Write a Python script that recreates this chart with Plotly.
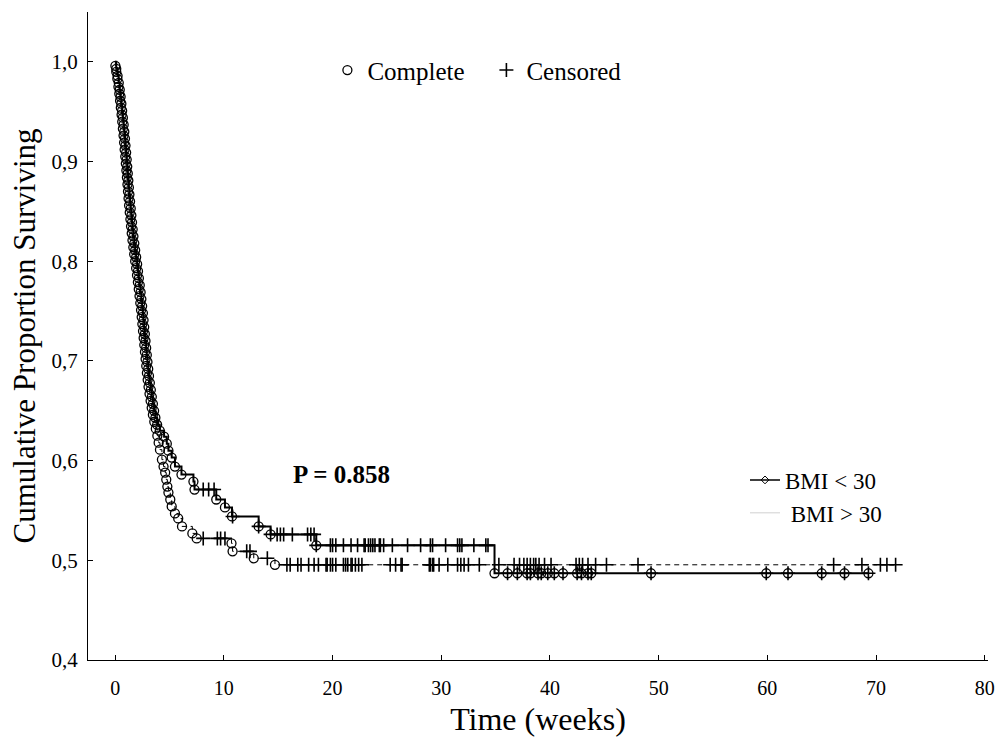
import plotly.graph_objects as go

# ---------------- data ----------------
# BMI < 30 : event (complete) times and survival after each event
g1_t = [0.10, 0.22, 0.33, 0.42, 0.50, 0.57, 0.64, 0.71, 0.78, 0.84, 0.90, 0.95, 1.01, 1.06, 1.11,
        1.16, 1.21, 1.26, 1.31, 1.37, 1.43, 1.49, 1.55, 1.61, 1.68, 1.76, 1.84, 1.93, 2.02, 2.10,
        2.18, 2.26, 2.34, 2.41, 2.48, 2.55, 2.61, 2.67, 2.73, 2.79, 2.85, 2.91, 2.97, 3.04, 3.11,
        3.19, 3.28, 3.37, 3.47, 3.58, 3.70, 3.86, 4.10, 4.50, 4.75, 4.90, 5.20, 5.50, 6.10, 7.20,
        7.30, 9.30, 10.10, 10.75, 13.20, 14.30, 18.50, 34.90, 36.1, 37.0, 37.9, 38.2, 38.9, 39.2,
        39.8, 40.4, 41.2, 42.5, 42.9, 43.5, 43.8, 49.3, 59.9, 61.9, 65.0, 67.1, 69.3]
g1_s = [0.993, 0.986, 0.979, 0.972, 0.965, 0.958, 0.951, 0.944, 0.937, 0.930, 0.923, 0.916, 0.909, 0.902, 0.895,
        0.888, 0.881, 0.874, 0.867, 0.860, 0.853, 0.846, 0.839, 0.832, 0.825, 0.818, 0.811, 0.804, 0.797, 0.790,
        0.783, 0.776, 0.769, 0.762, 0.755, 0.748, 0.741, 0.734, 0.727, 0.720, 0.713, 0.706, 0.699, 0.692, 0.685,
        0.678, 0.671, 0.664, 0.657, 0.650, 0.643, 0.636, 0.630, 0.624, 0.617, 0.610, 0.603, 0.594, 0.586, 0.579,
        0.571, 0.561, 0.553, 0.544, 0.534, 0.526, 0.515, 0.487, 0.487, 0.487, 0.487, 0.487, 0.487, 0.487,
        0.487, 0.487, 0.487, 0.487, 0.487, 0.487, 0.487, 0.487, 0.487, 0.487, 0.487, 0.487, 0.487]
g1_cens = [8.1, 8.6, 9.1, 10.8, 13.2, 14.3, 14.9, 15.2, 15.5, 16.3, 17.7, 18.0, 18.3, 18.5,
           19.8, 20.0, 20.3, 21.0, 21.7, 22.3, 22.9, 23.0, 23.3, 23.5, 23.7, 23.9, 24.3, 24.4, 24.7,
           25.5, 26.9, 28.1, 29.0, 29.2, 30.4, 31.5, 31.7, 31.9, 33.0, 34.1, 34.3,
           36.1, 37.0, 37.9, 38.2, 38.9, 39.2, 39.8, 40.4, 41.2, 42.5, 42.9, 43.5, 43.8,
           49.3, 59.9, 61.9, 65.0, 67.1, 69.3]

# BMI > 30
g2_t = [0.02, 0.10, 0.20, 0.30, 0.38, 0.45, 0.52, 0.59, 0.65, 0.71, 0.77, 0.82, 0.87, 0.93, 0.98,
        1.03, 1.08, 1.13, 1.18, 1.23, 1.28, 1.34, 1.40, 1.46, 1.52, 1.59, 1.67, 1.75, 1.84, 1.93,
        2.01, 2.09, 2.17, 2.24, 2.31, 2.38, 2.44, 2.50, 2.56, 2.62, 2.68, 2.74, 2.80, 2.86, 2.92,
        2.99, 3.07, 3.16, 3.26, 3.36, 3.47, 3.60, 3.74, 3.88, 4.00, 4.12, 4.30, 4.45, 4.60, 4.70,
        4.80, 4.90, 5.07, 5.20, 5.50, 5.80, 6.15, 7.10, 7.50, 10.70, 10.80, 12.75, 14.70]
g2_s = [0.996, 0.990, 0.983, 0.975, 0.968, 0.961, 0.954, 0.947, 0.940, 0.933, 0.926, 0.919, 0.912, 0.905, 0.898,
        0.891, 0.884, 0.877, 0.870, 0.863, 0.856, 0.849, 0.842, 0.835, 0.828, 0.821, 0.814, 0.807, 0.800, 0.793,
        0.786, 0.779, 0.772, 0.765, 0.758, 0.751, 0.744, 0.737, 0.730, 0.723, 0.716, 0.709, 0.702, 0.695, 0.688,
        0.681, 0.674, 0.667, 0.660, 0.653, 0.646, 0.639, 0.632, 0.625, 0.618, 0.611, 0.601, 0.594, 0.588, 0.581,
        0.574, 0.568, 0.561, 0.554, 0.547, 0.542, 0.534, 0.527, 0.522, 0.517, 0.509, 0.502, 0.4955]
g2_cens = [8.1, 9.4, 9.7, 10.1, 12.1, 12.4, 14.0,
           15.8, 16.1, 16.8, 17.1, 17.8, 18.3, 18.7, 19.4, 19.5, 19.8, 20.0, 20.3, 21.0, 21.2, 21.4, 21.7,
           21.8, 22.1, 22.4, 22.7, 25.3, 25.8, 26.3, 26.4, 28.9, 29.0, 29.2, 29.3, 29.8, 30.6, 31.5, 31.8,
           32.1, 32.5, 33.5, 35.3, 36.7, 37.2, 37.6, 37.9, 38.2, 38.5, 38.7, 39.0, 39.5, 40.1, 42.4, 42.7,
           43.0, 43.5, 44.2, 45.2, 48.1, 66.1, 68.7, 70.4, 71.0, 71.8]

x_ticks = [0, 10, 20, 30, 40, 50, 60, 70, 80]
y_ticks = [0.4, 0.5, 0.6, 0.7, 0.8, 0.9, 1.0]

FONT = "Liberation Serif, Times New Roman, serif"


def step_path(ts, ss, cens):
    xs = [0.0] + list(ts)
    ys = [1.0] + list(ss)
    end = max(cens) if cens else ts[-1]
    if end > xs[-1]:
        xs.append(end)
        ys.append(ys[-1])
    return xs, ys


def cens_y(ts, ss, cens):
    out = []
    for c in cens:
        v = 1.0
        for t, s in zip(ts, ss):
            if t <= c:
                v = s
        out.append(v)
    return out


fig = go.Figure()

x1, y1 = step_path(g1_t, g1_s, g1_cens)
x2, y2 = step_path(g2_t, g2_s, g2_cens)

fig.add_trace(go.Scatter(x=x2, y=y2, mode="lines", line=dict(color="black", width=1, dash="5px,4px", shape="hv"),
                         showlegend=False, hoverinfo="skip"))
fig.add_trace(go.Scatter(x=x1, y=y1, mode="lines", line=dict(color="black", width=2, shape="hv"),
                         showlegend=False, hoverinfo="skip"))

circ = dict(symbol="circle-open", size=9, color="black", line=dict(width=1.3, color="black"))
plus = dict(symbol="cross-thin-open", size=10, color="black", line=dict(width=1.6, color="black"))

fig.add_trace(go.Scatter(x=g2_t, y=g2_s, mode="markers", marker=circ, showlegend=False))
fig.add_trace(go.Scatter(x=g1_t, y=g1_s, mode="markers", marker=circ, showlegend=False))
fig.add_trace(go.Scatter(x=g2_cens, y=cens_y(g2_t, g2_s, g2_cens), mode="markers", marker=plus, showlegend=False))
fig.add_trace(go.Scatter(x=g1_cens, y=cens_y(g1_t, g1_s, g1_cens), mode="markers", marker=plus, showlegend=False))

# legend entries: group styles
fig.add_trace(go.Scatter(x=[None], y=[None], mode="lines+markers", name="BMI &lt; 30",
                         line=dict(color="black", width=1.5),
                         marker=dict(symbol="diamond-open", size=6, color="black", line=dict(width=1)),
                         legend="legend"))
fig.add_trace(go.Scatter(x=[None], y=[None], mode="lines", name=" BMI &gt; 30",
                         line=dict(color="#d0d0d0", width=1), legend="legend"))
# legend entries: marker meaning
fig.add_trace(go.Scatter(x=[None], y=[None], mode="markers", name="Complete",
                         marker=dict(symbol="circle-open", size=9, color="black", line=dict(width=1.3)),
                         legend="legend2"))
fig.add_trace(go.Scatter(x=[None], y=[None], mode="markers", name="Censored",
                         marker=dict(symbol="cross-thin-open", size=10, color="black", line=dict(width=1.6)),
                         legend="legend2"))

fig.add_annotation(x=20.8, y=0.586, xref="x", yref="y", text="<b>P = 0.858</b>", showarrow=False,
                   font=dict(family=FONT, size=25, color="black"))

fig.update_layout(
    width=995, height=737,
    margin=dict(l=88, r=7, t=12, b=77),
    paper_bgcolor="white", plot_bgcolor="white",
    separators=",.",
    font=dict(family=FONT, color="black", size=20),
    legend=dict(x=0.73, y=0.311, xanchor="left", yanchor="top", font=dict(family=FONT, size=23),
                bgcolor="rgba(0,0,0,0)", tracegroupgap=0),
    legend2=dict(x=0.266, y=0.91, xanchor="left", yanchor="middle", orientation="h",
                 font=dict(family=FONT, size=25), bgcolor="rgba(0,0,0,0)",
                 entrywidth=114, entrywidthmode="pixels"),
    xaxis=dict(range=[-2.5, 80.3], tickvals=x_ticks, ticks="inside", ticklen=5, tickwidth=1,
               tickcolor="black", showline=True, linecolor="black", linewidth=1.2, showgrid=False,
               zeroline=False, tickfont=dict(family=FONT, size=20), ticklabelstandoff=10,
               ticklabeloverflow="allow", automargin=False,
               title=dict(text="Time (weeks)", font=dict(family=FONT, size=32), standoff=10)),
    yaxis=dict(range=[0.4, 1.05], tickvals=y_ticks, tickformat=".1f", ticks="inside", ticklen=5, tickwidth=1,
               tickcolor="black", showline=True, linecolor="black", linewidth=1.2, showgrid=False,
               zeroline=False, tickfont=dict(family=FONT, size=21), ticklabelstandoff=5,
               automargin=False,
               title=dict(text="Cumulative Proportion Surviving", font=dict(family=FONT, size=31), standoff=6)),
)

# remove the default 8px page margin so the 995x737 figure fills the window exactly
fig.write_html("out.html", config={"displayModeBar": False},
               post_script="document.body.style.margin='0px';document.body.style.overflow='hidden';")
